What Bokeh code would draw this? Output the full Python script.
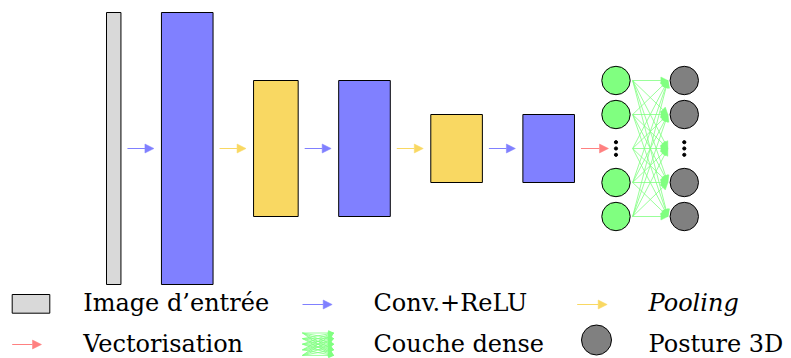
from bokeh.plotting import figure
from bokeh.models import Range1d, Arrow, NormalHead
from bokeh.core.properties import value
from bokeh.embed import file_html
from bokeh.resources import INLINE

# ---- diagram data ----
layer_kind = ["input", "conv", "pool", "conv", "pool", "conv"]
layer_rel_width = [0.28, 1.0, 0.865, 1.0, 1.0, 1.0]
layer_rel_height = [4, 4, 2, 2, 1, 1]
dense_slots = [True, True, False, True, True]   # False = ellipsis
out_slots = [True, True, False, True, True]
legend_labels = ["Image d’entrée", "Conv.+ReLU", "Pooling",
                 "Vectorisation", "Couche dense", "Posture 3D"]

# ---- styles / layout ----
COL = {"input": "#d9d9d9", "conv": "#8080ff", "pool": "#f9d862",
       "vec": "#ff8080", "dense": "#80ff80", "out": "#808080"}
FONT = value("DejaVu Serif")
FS = "24px"
UNIT_W, UNIT_H = 51.6, 68.0
X0, GAP, YC = 106.0, 40.5, 148.0

p = figure(width=791, height=358, output_backend="svg", toolbar_location=None,
           x_range=Range1d(0, 791), y_range=Range1d(358, 0),
           min_border=0, x_axis_location=None, y_axis_location=None)
p.outline_line_color = None
p.xgrid.visible = False
p.ygrid.visible = False

def add_arrow(x0, y0, x1, y1, color, size=9, lw=1.0):
    p.add_layout(Arrow(end=NormalHead(size=size, fill_color=color, line_color=color, line_width=0.5),
                       x_start=x0, y_start=y0, x_end=x1, y_end=y1,
                       line_color=color, line_width=lw))

# layers
lefts, rights, tops, bottoms, fills = [], [], [], [], []
x = X0
for k, rw, rh in zip(layer_kind, layer_rel_width, layer_rel_height):
    w, h = rw * UNIT_W, rh * UNIT_H
    lefts.append(x); rights.append(x + w)
    tops.append(YC - h / 2); bottoms.append(YC + h / 2)
    fills.append(COL[k])
    x += w + GAP
p.quad(left=lefts, right=rights, top=tops, bottom=bottoms,
       fill_color=fills, line_color="black", line_width=1)

# arrows between layers
for i in range(1, len(layer_kind)):
    add_arrow(rights[i - 1] + 6.5, YC, lefts[i] - 7.5, YC, COL[layer_kind[i]])

# dense part
in_x = rights[-1] + 41.5
out_x = in_x + 68.3
R = 14.2
STEP = 34.0
slot_y = [YC + STEP * (i - (len(dense_slots) - 1) / 2) for i in range(len(dense_slots))]
add_arrow(rights[-1] + 6.5, YC, in_x - 7.5, YC, COL["vec"])

for yi in slot_y:
    for yj in slot_y:
        add_arrow(in_x + R + 2.5, yi, out_x - R - 2.2, yj, COL["dense"], size=7, lw=0.8)

for xc, slots, col in [(in_x, dense_slots, COL["dense"]), (out_x, out_slots, COL["out"])]:
    ys = [y for y, s in zip(slot_y, slots) if s]
    p.scatter(x=[xc] * len(ys), y=ys, marker="circle", size=2 * R,
              fill_color=col, line_color="black", line_width=1)
    dots = [y for y, s in zip(slot_y, slots) if not s]
    for yd in dots:
        p.scatter(x=[xc] * 3, y=[yd - 6.3, yd, yd + 6.3], marker="circle", size=3.2,
                  fill_color="black", line_color="black")

# ---- legend ----
ROW1, ROW2 = 302.5, 343.5
TX = [82.7, 373.0, 648.0]
p.quad(left=[11.7], right=[49.3], top=[294.0], bottom=[312.7],
       fill_color=COL["input"], line_color="black", line_width=1)
add_arrow(302.0, 304.0, 331.7, 304.0, COL["conv"])
add_arrow(576.7, 304.0, 606.7, 304.0, COL["pool"])
add_arrow(11.7, 344.0, 41.0, 344.0, COL["vec"])
ly = [332.5 + i * 5.6 for i in range(5)]
for yi in ly:
    for yj in ly:
        add_arrow(302.0, yi, 333.0, yj, COL["dense"], size=5, lw=0.8)
p.scatter(x=[596.0], y=[339.5], marker="circle", size=30,
          fill_color=COL["out"], line_color="black", line_width=1)

p.text(x=[TX[0], TX[1]], y=[ROW1, ROW1], text=legend_labels[0:2],
       text_font=FONT, text_font_size=FS, text_baseline="alphabetic", text_color="black")
p.text(x=[TX[2]], y=[ROW1], text=[legend_labels[2]], text_font=FONT, text_font_size=FS,
       text_font_style="italic", text_baseline="alphabetic", text_color="black")
p.text(x=TX, y=[ROW2] * 3, text=legend_labels[3:6],
       text_font=FONT, text_font_size=FS, text_baseline="alphabetic", text_color="black")

open("out.html", "w").write(file_html(p, INLINE))
